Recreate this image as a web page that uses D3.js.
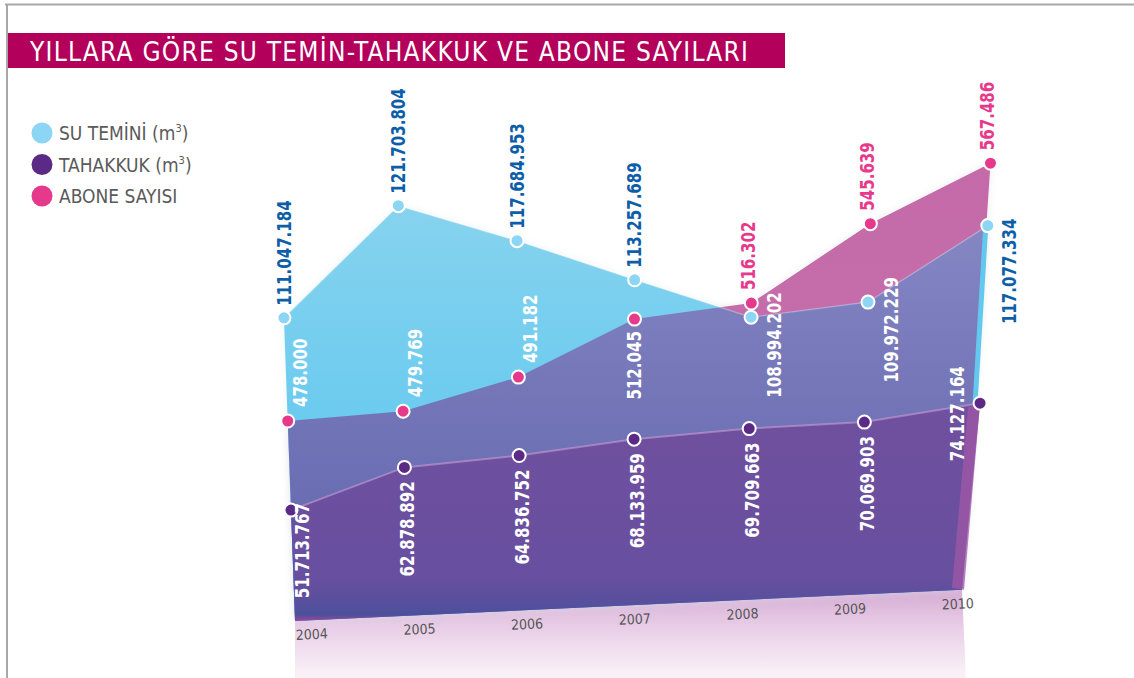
<!DOCTYPE html>
<html>
<head>
<meta charset="utf-8">
<script src="https://cdn.jsdelivr.net/npm/d3@7"></script>
<style>
body { margin: 0; background: #fff; }
svg { display: block; }
</style>
</head>
<body>
<svg id="viz" width="1134" height="678"></svg>
<script>
// data
var years = ["2004", "2005", "2006", "2007", "2008", "2009", "2010"];
var suTemini = [111047184, 121703804, 117684953, 113257689, 108994202, 109972229, 117077334];
var tahakkuk = [51713767, 62878892, 64836752, 68133959, 69709663, 70069903, 74127164];
var aboneSayisi = [478000, 479769, 491182, 512045, 516302, 545639, 567486];
var legendNames = ["SU TEMİNİ (m", "TAHAKKUK (m", "ABONE SAYISI"];
var legendSup = ["3", "3", ""];
var title = "YILLARA GÖRE SU TEMİN-TAHAKKUK VE ABONE SAYILARI";

// where each value label sits relative to its dot
var suPlace = ["above", "above", "above", "above", "inside", "inside", "right"];
var abonePlace = ["inside", "inside", "inside", "under", "above", "above", "above"];
var tahakkukPlace = ["first", "below", "below", "below", "below", "below", "left"];

var fmt = d3.formatLocale({ decimal: ",", thousands: ".", grouping: [3], currency: ["", ""] }).format(",");

var svg = d3.select("#viz");
var defs = svg.append("defs");

// page frame
svg.append("path").attr("d", "M5,4.5H1134M7,4.5V678")
	.attr("fill", "none").attr("stroke", "#a8a8a8").attr("stroke-width", 2);

// title bar
svg.append("rect").attr("x", 8).attr("y", 33).attr("width", 777).attr("height", 35).attr("fill", "#b3005b");
svg.append("text").attr("x", 30).attr("y", 61)
	.attr("font-family", "DejaVu Sans Condensed").attr("font-size", 26).attr("fill", "#fff")
	.attr("textLength", 718).attr("lengthAdjust", "spacing")
	.text(title);

// legend
var legendColors = ["#8cd5f4", "#5b2a86", "#e6398c"];
var legend = svg.append("g").selectAll("g").data(legendNames).join("g")
	.attr("transform", function(d, i) { return "translate(42," + (133 + i * 31.5) + ")"; });
legend.append("circle").attr("r", 10.5).attr("fill", function(d, i) { return legendColors[i]; });
var lt = legend.append("text").attr("x", 17).attr("y", 7)
	.attr("font-family", "DejaVu Sans Condensed").attr("font-size", 19).attr("fill", "#5a5a5a");
lt.append("tspan").text(function(d) { return d; });
lt.append("tspan").attr("font-size", 11).attr("dy", -8).text(function(d, i) { return legendSup[i]; });
lt.append("tspan").attr("dy", 8).text(function(d, i) { return legendSup[i] ? ")" : ""; });

// columns lean outward with height, baseline tilts up to the right
var x = d3.scalePoint().domain(years).range([295, 972]);
var xYear = d3.scalePoint().domain(years).range([312, 958]);
var tilt = 0.047, cx = 604, spread = 1.18e-4;
function base(px) { return 621 - (px - 295) * tilt; }
function pt(year, h) {
	var px = x(year);
	return [px + (px - cx) * spread * h, base(px) - h];
}

var hSu = d3.scaleLinear().domain([80.8e6, 125e6]).range([0, 443]);
var hAbone = d3.scaleLinear().domain([398800, 567486]).range([0, 426]);
var hTah = d3.scaleLinear().domain([18.6e6, 74.13e6]).range([0, 186]);

// bottom corners pulled in, as the picture is seen in perspective
var cornerL = [295, base(295)], cornerR = [962, base(962)];

function areaPts(values, h) {
	var top = years.map(function(y, i) { return pt(y, h(values[i])); });
	return top.concat([cornerR, cornerL]);
}
var closedPath = d3.line().curve(d3.curveLinearClosed);
var topLine = d3.line();

function grad(id, stops) {
	var gr = defs.append("linearGradient").attr("id", id).attr("x1", 0).attr("y1", 0).attr("x2", 0).attr("y2", 1);
	stops.forEach(function(s) { gr.append("stop").attr("offset", s[0]).attr("stop-color", s[1]).attr("stop-opacity", s[2] == null ? 1 : s[2]); });
}
grad("gCyan", [[0, "#86d3ee"], [0.5, "#6ccbef"], [1, "#55c3f0"]]);
grad("gMauve", [[0, "#c46aa8"], [1, "#c672ad"]]);
grad("gOver", [[0, "#8c8cc8"], [0.5, "#7476b8"], [1, "#5f64ad"]]);
grad("gPurple", [[0, "#70509f"], [0.8, "#684f9f"], [0.93, "#55509d"], [0.97, "#4b4f9b"], [1, "#9a4a9c"]]);
grad("gRefl", [[0, "#c58cc4", 0.75], [0.5, "#e3bfdf", 0.5], [1, "#f6e8f3", 0]]);

var blur = defs.append("filter").attr("id", "soft").attr("x", "-10%").attr("y", "-10%").attr("width", "120%").attr("height", "120%");
blur.append("feGaussianBlur").attr("stdDeviation", 4);

var g = svg.append("g");

var aboneArea = closedPath(areaPts(aboneSayisi, hAbone));
var suArea = closedPath(areaPts(suTemini, hSu));
var tahArea = closedPath(areaPts(tahakkuk, hTah));

// reflection under the baseline
g.append("path")
	.attr("d", closedPath([cornerL, cornerR, [cornerR[0] + 4, cornerR[1] + 90], [cornerL[0], cornerL[1] + 90]]))
	.attr("fill", "url(#gRefl)");

// soft halo behind everything
g.append("path").attr("d", aboneArea).attr("fill", "#d8d8e4").attr("opacity", 0.45).attr("filter", "url(#soft)");
g.append("path").attr("d", suArea).attr("fill", "#d8e4ec").attr("opacity", 0.45).attr("filter", "url(#soft)");

g.append("path").attr("d", aboneArea).attr("fill", "url(#gMauve)");
g.append("path").attr("d", suArea).attr("fill", "url(#gCyan)");

defs.append("clipPath").attr("id", "clipSu").append("path").attr("d", suArea);
g.append("path").attr("d", aboneArea).attr("fill", "url(#gOver)").attr("clip-path", "url(#clipSu)");

// light seam along the upper edge
g.append("path").attr("d", topLine(years.map(function(y, i) { return pt(y, hSu(suTemini[i])); })))
	.attr("fill", "none").attr("stroke", "#ffffff").attr("stroke-opacity", 0.25).attr("stroke-width", 1.5);

g.append("path").attr("d", tahArea).attr("fill", "url(#gPurple)");
g.append("path").attr("d", topLine(years.map(function(y, i) { return pt(y, hTah(tahakkuk[i])); })))
	.attr("fill", "none").attr("stroke", "#d9a6dc").attr("stroke-opacity", 0.5).attr("stroke-width", 2);

// right side face
var rt = pt(years[6], hTah(tahakkuk[6]));
g.append("path").attr("d", closedPath([[rt[0], rt[1]], [rt[0] - 12, rt[1] + 4], [cornerR[0] - 10, cornerR[1] - 2], [cornerR[0] + 2, cornerR[1]]]))
	.attr("fill", "#a057a5").attr("opacity", 0.75);
var st = pt(years[6], hSu(suTemini[6]));
g.append("path").attr("d", topLine([[st[0] - 2, st[1]], [rt[0] - 5, rt[1]]]))
	.attr("stroke", "#62c8ee").attr("stroke-width", 5);

// year labels
g.append("g").selectAll("text").data(years).join("text")
	.attr("transform", function(d) {
		var px = xYear(d);
		return "translate(" + px + "," + (base(px) + 19) + ") rotate(-2.6)";
	})
	.attr("text-anchor", "middle")
	.attr("font-family", "DejaVu Sans Condensed").attr("font-size", 14).attr("fill", "#555")
	.text(function(d) { return d; });

// dots and value labels
function series(values, h, fill, labelColor, places, offsets) {
	var pts = years.map(function(y, i) { return pt(y, h(values[i])); });
	g.append("g").selectAll("circle").data(pts).join("circle")
		.attr("cx", function(d) { return d[0]; }).attr("cy", function(d) { return d[1]; })
		.attr("r", 6.5).attr("fill", fill).attr("stroke", "#fff").attr("stroke-width", 2);
	g.append("g").selectAll("text").data(values).join("text")
		.attr("transform", function(d, i) {
			var o = offsets[places[i]];
			return "translate(" + (pts[i][0] + o[0]) + "," + (pts[i][1] + o[1]) + ") rotate(-90) scale(0.88,1)";
		})
		.attr("text-anchor", function(d, i) { return offsets[places[i]][2]; })
		.attr("dy", "0.36em")
		.attr("font-family", "DejaVu Sans Condensed").attr("font-weight", "bold").attr("font-size", 19)
		.attr("fill", function(d, i) { return offsets[places[i]][3] || labelColor; })
		.text(function(d) { return fmt(d); });
}

series(suTemini, hSu, "#8cd5f4", "#0d5ea8", suPlace, {
	above: [0, -12, "start"],
	inside: [23, -25, "end", "#ffffff"],
	right: [21, -7, "end"]
});
series(aboneSayisi, hAbone, "#e6398c", "#e6398c", abonePlace, {
	above: [-3, -13, "start"],
	inside: [12, -14, "start", "#ffffff"],
	under: [0, 12, "end", "#ffffff"]
});
series(tahakkuk, hTah, "#5b2a86", "#ffffff", tahakkukPlace, {
	first: [11, -7, "end"],
	below: [3, 14, "end"],
	left: [-23, -37, "end"]
});
</script>
</body>
</html>
